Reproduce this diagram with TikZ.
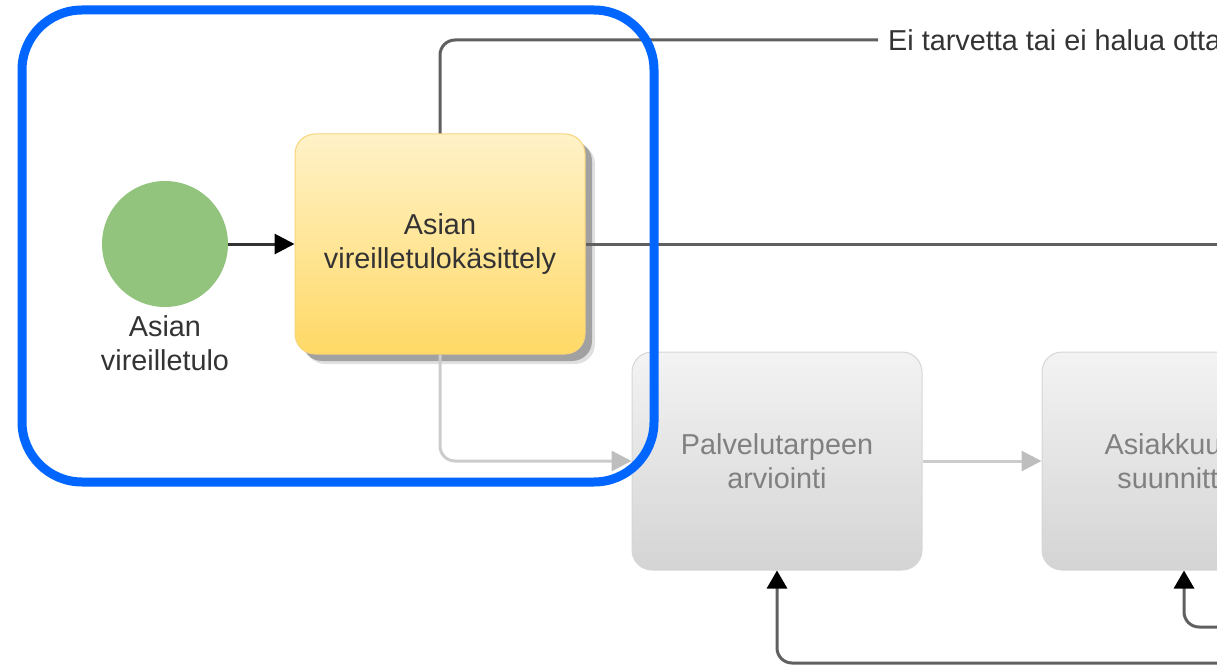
\documentclass[tikz,border=0pt]{standalone}
\usepackage{fontspec}
\setmainfont{Liberation Sans}
\usetikzlibrary{arrows.meta,positioning,shadows}

\definecolor{startgreen}{RGB}{147,196,125}
\definecolor{tasktop}{RGB}{255,242,200}
\definecolor{taskbottom}{RGB}{255,217,102}
\definecolor{taskborder}{RGB}{246,214,120}
\definecolor{ghosttop}{RGB}{243,243,243}
\definecolor{ghostbottom}{RGB}{212,212,212}
\definecolor{ghostborder}{RGB}{214,214,214}
\definecolor{ghosttext}{RGB}{128,128,128}
\definecolor{flowgray}{RGB}{96,96,96}
\definecolor{lightflow}{RGB}{204,204,204}
\definecolor{lighttip}{RGB}{190,190,190}
\definecolor{darktext}{RGB}{51,51,51}
\definecolor{framebl}{RGB}{0,102,255}

\tikzset{
  every node/.style={font=\fontsize{28.8}{34.5}\selectfont},
  startev/.style={circle, fill=startgreen, draw=none, minimum size=126pt, inner sep=0pt},
  lbl/.style={text=darktext, align=center, inner sep=0pt},
  task/.style={rounded corners=20pt, minimum width=290pt, minimum height=220pt,
    draw=taskborder, line width=1pt, top color=tasktop, bottom color=taskbottom,
    text=darktext, align=center,
    drop shadow={shadow xshift=10pt, shadow yshift=-10pt, fill=black, opacity=0.12},
    drop shadow={shadow xshift=7pt, shadow yshift=-7pt, fill=black, opacity=0.28}},
  ghost/.style={rounded corners=20pt, minimum width=290pt, minimum height=218pt,
    draw=ghostborder, line width=1pt, top color=ghosttop, bottom color=ghostbottom,
    text=ghosttext, align=center},
  flow/.style={draw=flowgray, line width=3pt, rounded corners=15pt},
  blacktip/.style={-{Triangle[length=18pt,width=20pt,fill=black,color=black]}},
  startarrow/.style={draw=darktext, line width=3pt, -{Triangle[length=20pt,width=20pt,color=black]}},
  softflow/.style={draw=lightflow, line width=3pt, rounded corners=15pt,
    -{Triangle[length=20pt,width=20pt,color=lighttip]}},
  frame/.style={draw=framebl, line width=9pt, rounded corners=60pt}
}

\begin{document}
\begin{tikzpicture}[x=1pt,y=-1pt]
\useasboundingbox (0,0) rectangle (1217,671);
\clip (0,0) rectangle (1217,671);
\fill[white] (0,0) rectangle (1217,671);

% start event and its caption
\node[startev] (start) at (165,244) {};
\node[lbl] (startlbl) at (165,343) {Asian\\vireilletulo};

% tasks
\node[task] (kasittely) at (440,244) {Asian\\vireilletulokäsittely};
\node[ghost] (arviointi) at (777,461) {Palvelutarpeen\\arviointi};
\node[ghost] (suunnittelu) at (1187,461) {Asiakkuuden\\suunnittelu};

% label on the upper branch
\node[lbl, anchor=west, inner sep=10pt] (eitarvetta) at (878,40) {Ei tarvetta tai ei halua ottaa};

% loose ends leaving to the right
\coordinate (exitmid) at (1240,244);
\coordinate (loopa) at (1240,663);
\coordinate (loopb) at (1240,627);

% connectors
\draw[startarrow] (start.east) -- (kasittely.west);
\draw[flow] (kasittely.north) |- (eitarvetta.west);
\draw[flow] (kasittely.east) -- (exitmid);
\draw[softflow] (kasittely.south) |- (arviointi.west);
\draw[softflow, rounded corners=0pt] (arviointi.east) -- (suunnittelu.west);
\draw[flow, blacktip] (loopa) -| (arviointi.south);
\draw[flow, blacktip] (loopb) -| ([xshift=-3pt]suunnittelu.south);

% highlight frame
\draw[frame] (22,10) rectangle (654,482);
\end{tikzpicture}
\end{document}
